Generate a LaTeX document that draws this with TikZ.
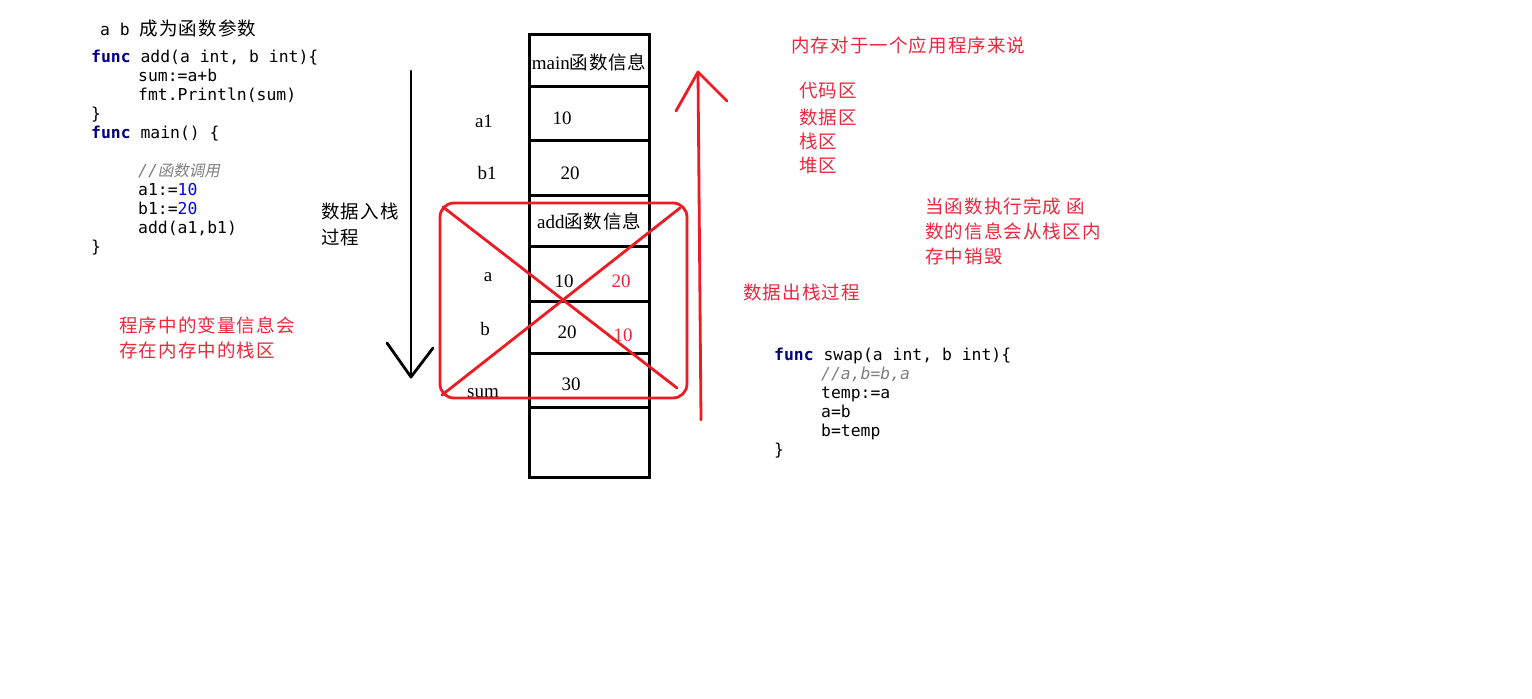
\documentclass[tikz,border=0pt]{standalone}
\usepackage{fontspec}
\setmainfont{Liberation Serif}
\setmonofont{DejaVu Sans Mono}
\newfontfamily\cjk[LetterSpace=6]{Noto Sans CJK SC}
\newfontfamily\cjkcell[LetterSpace=4]{Noto Sans CJK SC}
\newfontfamily\cjkit[FakeSlant=0.2]{Noto Sans CJK SC}
\definecolor{pred}{RGB}{237,28,36}
\definecolor{tred}{RGB}{236,40,62}
\definecolor{kw}{RGB}{0,0,128}
\definecolor{num}{RGB}{0,0,255}
\definecolor{cmt}{RGB}{128,128,128}
\tikzset{
  code/.style={anchor=base west,inner sep=0pt,font=\ttfamily\fontsize{16.4}{19}\selectfont},
  zh/.style={anchor=west,inner sep=0pt,font=\cjk\fontsize{18.5}{20}\selectfont},
  zhred/.style={zh,text=tred},
  cell/.style={inner sep=0pt,font=\fontsize{19}{22}\selectfont},
  lbl/.style={anchor=base,inner sep=0pt,font=\fontsize{19}{22}\selectfont},
  stackline/.style={line width=3pt,black},
  redline/.style={line width=2.8pt,pred,line cap=round,line join=round},
  blkline/.style={line width=2.8pt,black,line cap=round,line join=round}
}
\newcommand{\kwd}[1]{{\bfseries\color{kw}#1}}
\newcommand{\ind}{\hspace*{47pt}}
\begin{document}
\begin{tikzpicture}[x=1pt,y=-1pt]
\fill[white] (0,0) rectangle (1532,699);
\useasboundingbox (0,0) rectangle (1532,699);

% left code
\node[code] (t0) at (100,35) {a b {\cjk\fontsize{18.5}{19}\selectfont 成为函数参数}};
\node[code] (c1) at (91,62) {\kwd{func} add(a int, b int)\{};
\node[code] (c2) at (91,81) {\ind sum:=a+b};
\node[code] (c3) at (91,100) {\ind fmt.Println(sum)};
\node[code] (c4) at (91,119) {\}};
\node[code] (c5) at (91,138) {\kwd{func} main() \{};
\node[code] (c6) at (91,176) {\ind{\color{cmt}\itshape //{\cjkit\fontsize{15.5}{19}\selectfont 函数调用}}};
\node[code] (c7) at (91,195) {\ind a1:={\color{num}10}};
\node[code] (c8) at (91,214) {\ind b1:={\color{num}20}};
\node[code] (c9) at (91,233) {\ind add(a1,b1)};
\node[code] (c10) at (91,252) {\}};

% swap code
\node[code] (s1) at (774,360) {\kwd{func} swap(a int, b int)\{};
\node[code] (s2) at (774,379) {\ind{\color{cmt}\itshape //a,b=b,a}};
\node[code] (s3) at (774,398) {\ind temp:=a};
\node[code] (s4) at (774,417) {\ind a=b};
\node[code] (s5) at (774,436) {\ind b=temp};
\node[code] (s6) at (774,455) {\}};

% chinese notes
\node[zh] (in1) at (321,211) {数据入栈};
\node[zh] (in2) at (321,237) {过程};
\node[zhred] (v1) at (119,325) {程序中的变量信息会};
\node[zhred] (v2) at (119,350) {存在内存中的栈区};
\node[zhred] (m0) at (791,45) {内存对于一个应用程序来说};
\node[zhred] (m1) at (799,91) {代码区};
\node[zhred] (m2) at (799,117) {数据区};
\node[zhred] (m3) at (799,141) {栈区};
\node[zhred] (m4) at (799,166) {堆区};
\node[zhred] (d1) at (925,206) {当函数执行完成 函};
\node[zhred] (d2) at (925,231) {数的信息会从栈区内};
\node[zhred] (d3) at (925,256) {存中销毁};
\node[zhred] (out) at (743,292) {数据出栈过程};

% stack
\draw[stackline] (529,34) rectangle (649,477);
\foreach \yy in {86,140,195,246,301,353,407} \draw[stackline] (529,\yy) -- (649,\yy);

\node[cell] (mainf) at (589,62) {main{\cjkcell\fontsize{18.5}{20}\selectfont 函数信息}};
\node[cell] (v10) at (562,118) {10};
\node[cell] (v20) at (570,173) {20};
\node[cell] (addf) at (589,221) {add{\cjkcell\fontsize{18.5}{20}\selectfont 函数信息}};
\node[cell] (va) at (564,281) {10};
\node[cell,text=tred] (va2) at (621,281) {20};
\node[cell] (vb) at (567,332) {20};
\node[cell,text=tred] (vb2) at (623,335) {10};
\node[cell] (vs) at (571,384) {30};

\node[lbl] (la1) at (484,127) {a1};
\node[lbl] (lb1) at (487,179) {b1};
\node[lbl] (la) at (488,281) {a};
\node[lbl] (lb) at (485,335) {b};
\node[lbl] (ls) at (483,397) {sum};

% red box and cross
\draw[pred,line width=2.8pt,rounded corners=14pt] (440,203) rectangle (687,398);
\coordinate (x1) at (443,207);
\coordinate (x2) at (677,388);
\coordinate (x3) at (680,208);
\coordinate (x4) at (442,395);
\draw[redline] (x1) -- (x2);
\draw[redline] (x3) -- (x4);

% black push arrow
\coordinate (pt) at (411,71);
\coordinate (pb) at (411,377);
\coordinate (pl) at (387,343);
\coordinate (pr) at (433,348);
\draw[blkline] (pt) -- (pb);
\draw[blkline] (pl) -- (pb) -- (pr);

% red pop arrow
\coordinate (qb) at (701,420);
\coordinate (qt) at (698,72);
\coordinate (ql) at (676,111);
\coordinate (qr) at (727,101);
\draw[redline] (qb) -- (qt);
\draw[redline] (ql) -- (qt) -- (qr);
\end{tikzpicture}
\end{document}
